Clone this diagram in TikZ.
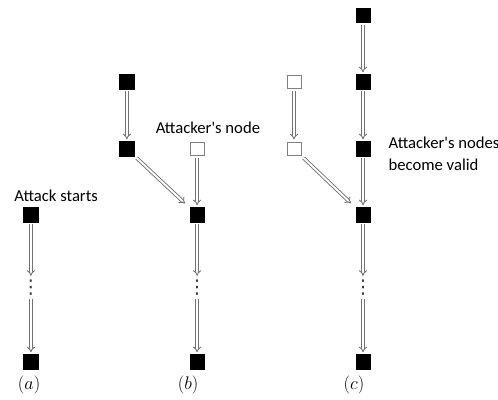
\documentclass[tikz,border=0pt]{standalone}
\usepackage{fontspec}
\setmainfont{Carlito}
\newfontfamily\dotsfont{DejaVu Sans}
\usetikzlibrary{arrows.meta}

\tikzset{
  blk/.style={draw=black, fill=black, minimum size=0.48cm, inner sep=0pt},
  wht/.style={draw=gray, fill=white, line width=0.6pt, minimum size=0.46cm, inner sep=0pt},
  dbl/.style={draw=black!55, double=white, double distance=1.8pt, line width=0.85pt, -{Implies[scale=1.6]}, shorten >=2pt, shorten <=2pt},
  diag/.style={dbl, shorten <=3pt, shorten >=6pt},
  txt/.style={font=\fontsize{15.8}{20.9}\selectfont},
  lbl/.style={font=\fontsize{17.5}{21}\selectfont},
  vdot/.style={inner xsep=0pt, inner ysep=1.5pt, text=black!80, font=\dotsfont\fontsize{18}{21}\selectfont}
}

\begin{document}
\begin{tikzpicture}
  \useasboundingbox (0,0) rectangle (16.6,13.33);
  % (a)
  \node[blk] (a1) at (1.03,6.17) {};
  \node[vdot] (ad) at (1.03,3.75) {⋮};
  \node[blk] (a2) at (1.03,1.27) {};
  \node[txt] (astart) at (1.87,6.8) {Attack starts};
  \node[lbl] (alab) at (0.97,0.5) {$(a)$};
  \draw[dbl] (a1) -- (ad);
  \draw[dbl] (ad) -- (a2);
  % (b)
  \node[blk] (b1) at (4.23,10.6) {};
  \node[blk] (b2) at (4.23,8.37) {};
  \node[wht] (bw) at (6.57,8.37) {};
  \node[blk] (b3) at (6.57,6.17) {};
  \node[vdot] (bd) at (6.57,3.75) {⋮};
  \node[blk] (b4) at (6.57,1.27) {};
  \node[txt] (bnode) at (6.93,9.07) {Attacker\textquotesingle s node};
  \node[lbl] (blab) at (6.27,0.5) {$(b)$};
  \draw[dbl] (b1) -- (b2);
  \draw[diag] (b2) -- (b3);
  \draw[dbl] (bw) -- (b3);
  \draw[dbl] (b3) -- (bd);
  \draw[dbl] (bd) -- (b4);
  % (c)
  \node[blk] (c1) at (12.1,12.83) {};
  \node[blk] (c2) at (12.1,10.6) {};
  \node[wht] (cw1) at (9.8,10.6) {};
  \node[blk] (c3) at (12.1,8.37) {};
  \node[wht] (cw2) at (9.8,8.37) {};
  \node[blk] (c4) at (12.1,6.17) {};
  \node[vdot] (cd) at (12.1,3.75) {⋮};
  \node[blk] (c5) at (12.1,1.27) {};
  \node[txt, anchor=west, align=left] (cnodes) at (12.83,8.2) {Attacker\textquotesingle s nodes\\become valid};
  \node[lbl] (clab) at (11.8,0.5) {$(c)$};
  \draw[dbl] (c1) -- (c2);
  \draw[dbl] (c2) -- (c3);
  \draw[dbl] (cw1) -- (cw2);
  \draw[diag] (cw2) -- (c4);
  \draw[dbl] (c3) -- (c4);
  \draw[dbl] (c4) -- (cd);
  \draw[dbl] (cd) -- (c5);
\end{tikzpicture}
\end{document}
